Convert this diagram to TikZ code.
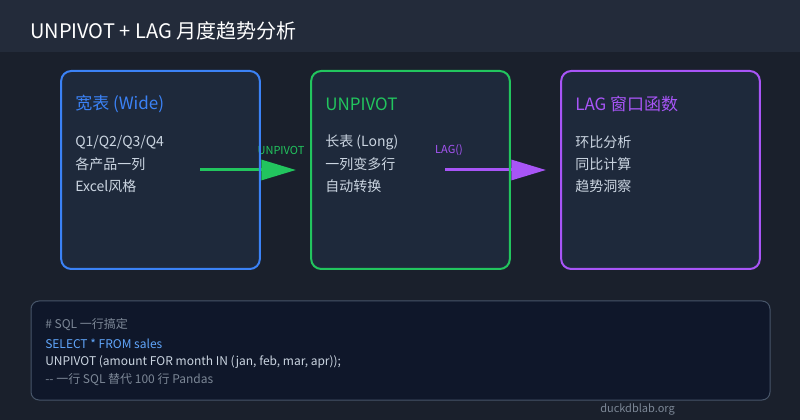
\documentclass[tikz,border=0pt]{standalone}
\usepackage{fontspec}
\setmainfont{Noto Sans CJK SC}
\usetikzlibrary{arrows.meta}
\definecolor{bg}{HTML}{1A202C}
\definecolor{bar}{HTML}{232B3A}
\definecolor{boxf}{HTML}{1E293B}
\definecolor{cblue}{HTML}{3B82F6}
\definecolor{cgreen}{HTML}{22C55E}
\definecolor{cpurple}{HTML}{A855F7}
\definecolor{codef}{HTML}{0F172A}
\definecolor{codeb}{HTML}{475569}
\definecolor{txt}{HTML}{CBD5E1}
\definecolor{dim}{HTML}{7C8796}
\definecolor{lblue}{HTML}{60A5FA}
\begin{document}
\begin{tikzpicture}[x=0.75pt,y=-0.75pt,
  card/.style={rounded corners=7.5pt,line width=1.5pt,minimum width=149pt,minimum height=148.5pt,inner sep=0pt},
  head/.style={anchor=west,inner xsep=0pt,font=\fontsize{12.75}{15}\selectfont},
  body/.style={anchor=west,inner xsep=0pt,text=txt,font=\fontsize{10.5}{13}\selectfont},
  lab/.style={font=\fontsize{8.25}{10}\selectfont},
  code/.style={anchor=west,inner xsep=0pt,font=\fontsize{9}{11}\selectfont},
  arr/.style={line width=2.25pt,-{Triangle[length=26pt,width=15pt]}}]
\fill[bg] (0,0) rectangle (800,420);
\fill[bar] (0,0) rectangle (800,52);
\node[anchor=west,inner xsep=0pt,text=white,font=\fontsize{15}{18}\selectfont] (title) at (30,31) {UNPIVOT + LAG 月度趋势分析};
% card fills
\node[card,fill=boxf] (b1) at (160.5,170) {};
\node[card,fill=boxf] (b2) at (410.5,170) {};
\node[card,fill=boxf] (b3) at (660.5,170) {};
% arrows
\coordinate (a1s) at (200,170); \coordinate (a1e) at (296,170);
\coordinate (a2s) at (445,170); \coordinate (a2e) at (546,170);
\draw[arr,cgreen] (a1s) -- (a1e);
\draw[arr,cpurple] (a2s) -- (a2e);
\node[lab,text=cgreen] (l1) at (281,150) {UNPIVOT};
\node[lab,text=cpurple] (l2) at (449,150) {LAG()};
% card borders
\node[card,draw=cblue] at (b1) {};
\node[card,draw=cgreen] at (b2) {};
\node[card,draw=cpurple] at (b3) {};
\node[head,text=cblue] (h1) at (75,104) {宽表 (Wide)};
\node[body] (t11) at (75,142) {Q1/Q2/Q3/Q4};
\node[body] (t12) at (75,164) {各产品一列};
\node[body] (t13) at (75,186) {Excel风格};
\node[head,text=cgreen] (h2) at (325,104) {UNPIVOT};
\node[body] (t21) at (325,142) {长表 (Long)};
\node[body] (t22) at (325,164) {一列变多行};
\node[body] (t23) at (325,186) {自动转换};
\node[head,text=cpurple] (h3) at (575,104) {LAG 窗口函数};
\node[body] (t31) at (575,142) {环比分析};
\node[body] (t32) at (575,164) {同比计算};
\node[body] (t33) at (575,186) {趋势洞察};
% code box
\draw[codeb,fill=codef,line width=0.75pt,rounded corners=6pt] (31,301) rectangle (770,400);
\node[code,text=dim] (c1) at (45,325) {\# SQL 一行搞定};
\node[code,text=lblue] (c2) at (45,344) {SELECT * FROM sales};
\node[code,text=txt] (c3) at (45,362) {UNPIVOT (amount FOR month IN (jan, feb, mar, apr));};
\node[code,text=dim] (c4) at (45,380) {{-}{-} 一行 SQL 替代 100 行 Pandas};
\node[anchor=west,inner xsep=0pt,text=dim,font=\fontsize{8.25}{10}\selectfont] (f) at (600,409) {duckdblab.org};
\end{tikzpicture}
\end{document}
